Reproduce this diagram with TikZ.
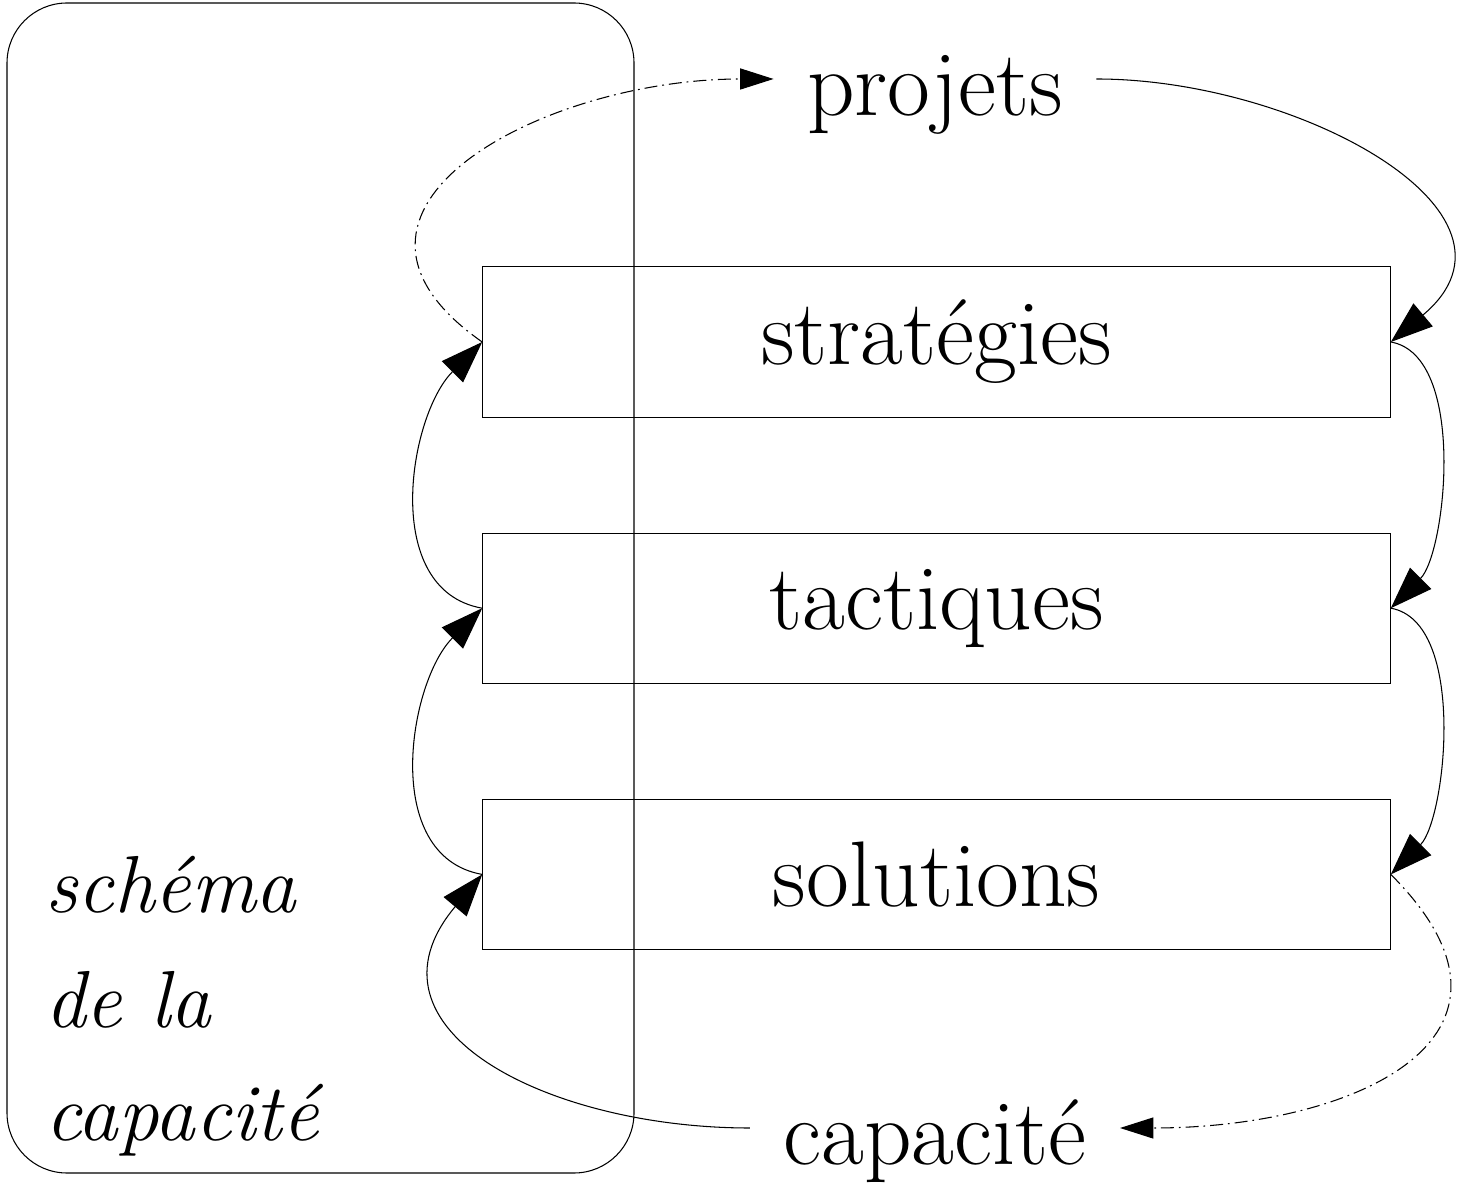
\documentclass[tikz,border=0pt]{standalone}
\usepackage{fontspec}
\usetikzlibrary{positioning,arrows.meta}

\begin{document}
\begin{tikzpicture}[x=0.01cm, y=-0.01cm, node distance=1.15cm, line width=0.3pt, >={Triangle[length=12pt,width=8.5pt]}]
  \tikzstyle{niveau} = [rectangle, draw, minimum width=9.07cm, minimum height=1.5cm, font=\fontsize{26.5}{32}\selectfont]
  \tikzstyle{mot} = [inner xsep=0.33cm, inner ysep=0pt, text height=0.72cm, text depth=0pt, font=\fontsize{26.5}{32}\selectfont]
  \tikzstyle{legende} = [anchor=base west, inner sep=0pt, font=\fontsize{23}{28}\selectfont\itshape]
  \tikzstyle{tiret} = [dash pattern=on 3.7pt off 1.4pt on 0.5pt off 1.4pt, -{Triangle[length=9.5pt,width=6pt]}]

  \useasboundingbox (0,0) rectangle (1458,1183);
  \draw[rounded corners=0.6cm] (7,3) rectangle (634,1173);

  \node[niveau] (strategies) at (936.5,342) {stratégies};
  \node[niveau, below=of strategies] (tactiques) {tactiques};
  \node[niveau, below=of tactiques] (solutions) {solutions};

  \node[mot] (projets) at (935,79) {projets};
  \node[mot] (capacite) at (935,1128) {capacité};

  \node[legende] (schema) at (45,912) {schéma};
  \node[legende] (dela) at (45,1027) {de la};
  \node[legende] (capa) at (45,1140) {capacité};

  \draw[->] (projets.east) to[out=0, in=40, looseness=1.3] (strategies.east);
  \draw[->] (strategies.east) to[out=-10, in=45, looseness=0.75] (tactiques.east);
  \draw[->] (tactiques.east) to[out=-10, in=45, looseness=0.75] (solutions.east);
  \draw[tiret] (solutions.east) to[out=-45, in=0, looseness=1.6] (capacite.east);

  \draw[->] (capacite.west) to[out=180, in=-130, looseness=1.4] (solutions.west);
  \draw[->] (solutions.west) to[out=170, in=-135] (tactiques.west);
  \draw[->] (tactiques.west) to[out=170, in=-135] (strategies.west);
  \draw[tiret] (strategies.west) to[out=145, in=180, looseness=1.5] (projets.west);

\end{tikzpicture}
\end{document}
